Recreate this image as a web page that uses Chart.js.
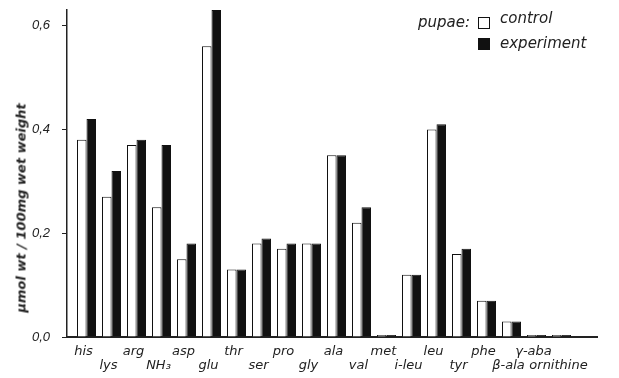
<!DOCTYPE html>
<html>
<head>
<meta charset="utf-8">
<script src="https://cdn.jsdelivr.net/npm/chart.js@4"></script>
<style>
  body { margin: 0; background: #fff; }
  #wrap { position: relative; width: 619px; height: 378px; }
  #ytitle {
    position: absolute; left: 21px; top: 208px;
    transform: translate(-50%, -50%) rotate(-90deg);
    white-space: nowrap; font: italic bold 13px "DejaVu Sans"; color: #222;
  }
  #legend { position: absolute; left: 418px; top: 9px; font: italic 15px "DejaVu Sans"; color: #222; }
  #legend .row { position: absolute; white-space: nowrap; }
  #legend .box { position: absolute; width: 10px; height: 10px; border: 1.5px solid #111; }
</style>
</head>
<body>
<div id="wrap">
  <canvas id="chart" width="619" height="378"></canvas>
  <div id="ytitle">μmol wt / 100mg wet weight</div>
  <div id="legend">
    <div class="row" style="left:0;top:4px">pupae:</div>
    <div class="box" style="left:60px;top:8px;background:#fff"></div>
    <div class="row" style="left:82px;top:0">control</div>
    <div class="box" style="left:60px;top:29px;background:#111"></div>
    <div class="row" style="left:82px;top:25px">experiment</div>
  </div>
</div>
<script>
const aminoAcids = ['his', 'lys', 'arg', 'NH₃', 'asp', 'glu', 'thr', 'ser', 'pro', 'gly',
  'ala', 'val', 'met', 'i-leu', 'leu', 'tyr', 'phe', 'β-ala', 'γ-aba', 'ornithine'];
const controlValues = [0.38, 0.27, 0.37, 0.25, 0.15, 0.56, 0.13, 0.18, 0.17, 0.18,
  0.35, 0.22, 0.004, 0.12, 0.40, 0.16, 0.07, 0.03, 0.004, 0.004];
const experimentValues = [0.42, 0.32, 0.38, 0.37, 0.18, 0.63, 0.13, 0.19, 0.18, 0.18,
  0.35, 0.25, 0.004, 0.12, 0.41, 0.17, 0.07, 0.03, 0.004, 0.004];
const yTickValues = [0, 0.2, 0.4, 0.6];

const ink = '#222';

new Chart(document.getElementById('chart'), {
  type: 'bar',
  data: {
    datasets: [
      {
        label: 'control',
        data: controlValues.map((v, i) => ({ x: i, y: v })),
        backgroundColor: '#fff',
        borderColor: '#111',
        borderWidth: 1
      },
      {
        label: 'experiment',
        data: experimentValues.map((v, i) => ({ x: i, y: v })),
        backgroundColor: '#111',
        borderColor: '#111',
        borderWidth: 1
      }
    ]
  },
  options: {
    responsive: false,
    animation: false,
    layout: { padding: { top: 10, right: 22, left: 0, bottom: 0 } },
    datasets: { bar: { categoryPercentage: 0.76, barPercentage: 1 } },
    plugins: { legend: { display: false }, tooltip: { enabled: false } },
    scales: {
      x: {
        type: 'linear',
        min: -0.78,
        max: 20.42,
        offset: false,
        bounds: 'data',
        grid: { display: false, offset: false },
        border: { display: true, color: ink, width: 2 },
        afterBuildTicks: s => { s.ticks = aminoAcids.map((_, i) => ({ value: i })); },
        afterFit: s => { s.height = 41; s.paddingLeft = 0; s.paddingRight = 0; },
        ticks: {
          autoSkip: false,
          maxRotation: 0,
          padding: 0,
          labelOffset: -3,
          color: ink,
          font: { family: 'DejaVu Sans', style: 'italic', size: 13, lineHeight: 1.08 },
          // labels alternate between an upper and a lower row
          callback: v => (v % 2 === 0 ? aminoAcids[v] : ['', aminoAcids[v]])
        }
      },
      y: {
        min: 0,
        max: 0.63,
        grid: { drawOnChartArea: false, drawTicks: true, tickLength: 5, color: ink },
        border: { display: true, color: ink, width: 1.5 },
        afterBuildTicks: s => { s.ticks = yTickValues.map(v => ({ value: v })); },
        afterFit: s => { s.width = 67; s.paddingTop = 0; s.paddingBottom = 0; },
        ticks: {
          padding: 12,
          color: ink,
          font: { family: 'Liberation Sans', style: 'italic', size: 13 },
          callback: v => v.toFixed(1).replace('.', ',')
        }
      }
    }
  }
});
</script>
</body>
</html>
